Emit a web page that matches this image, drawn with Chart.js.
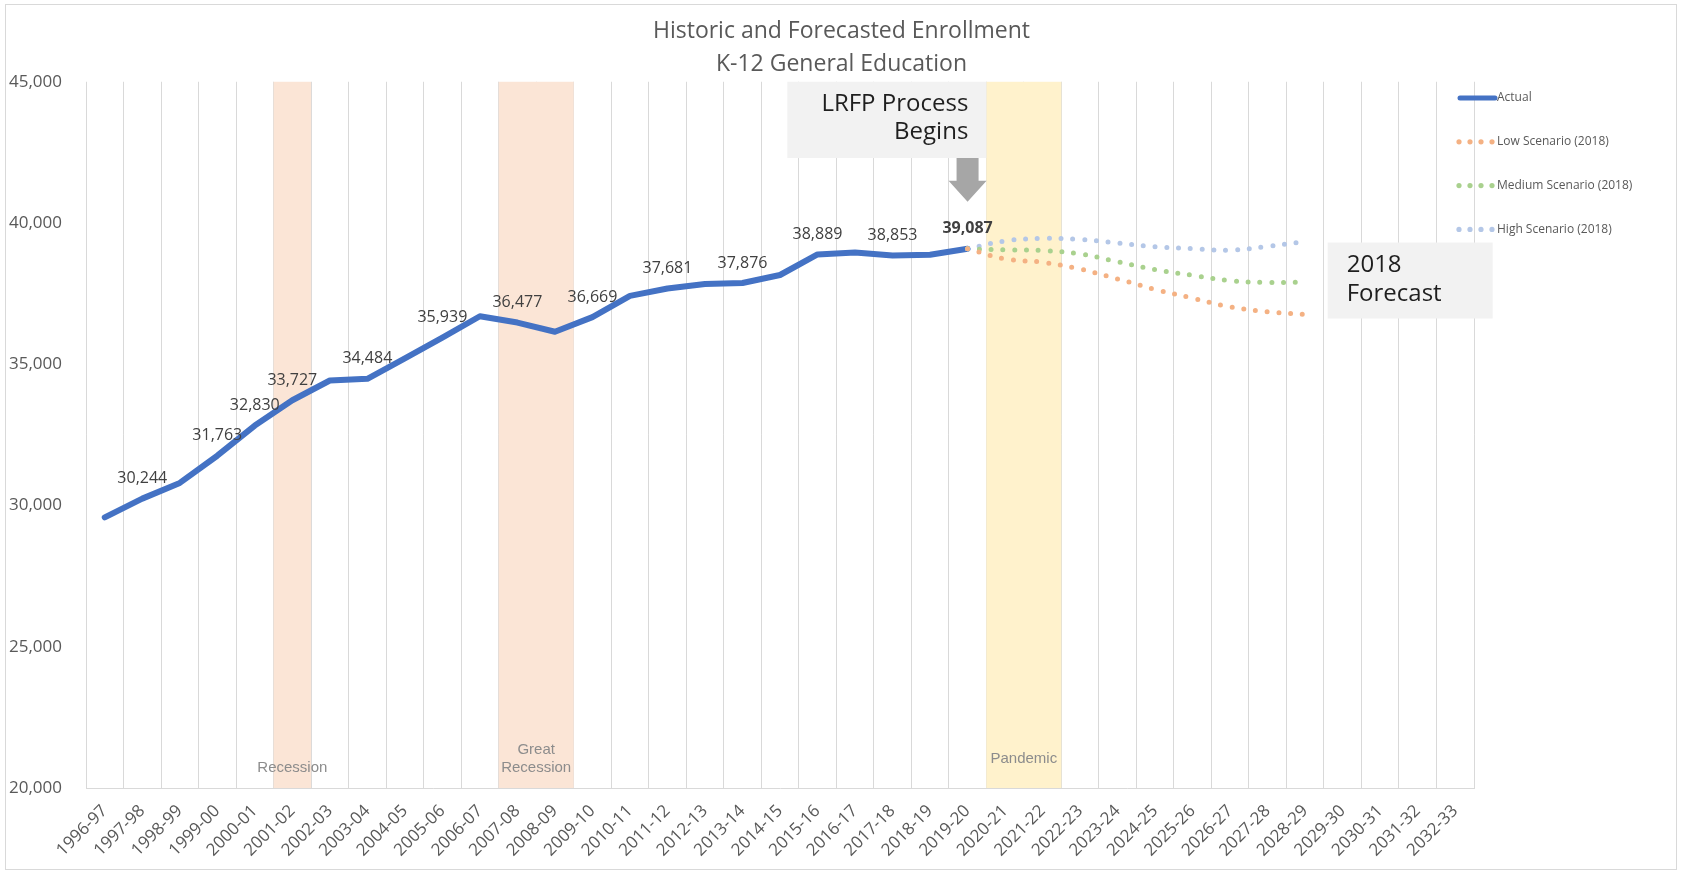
<!DOCTYPE html>
<html>
<head>
<meta charset="utf-8">
<title>Historic and Forecasted Enrollment</title>
<script src="https://cdn.jsdelivr.net/npm/chart.js@4.4.1/dist/chart.umd.min.js"></script>
<style>
    html, body { margin: 0; padding: 0; background: #fff; }
    #wrap { width: 1683px; height: 874px; }
</style>
</head>
<body>
<div id="wrap"><canvas id="enrollmentChart" width="1683" height="874"></canvas></div>
<script>
// School years on the x axis
var years = ['1996-97', '1997-98', '1998-99', '1999-00', '2000-01', '2001-02', '2002-03', '2003-04',
    '2004-05', '2005-06', '2006-07', '2007-08', '2008-09', '2009-10', '2010-11', '2011-12', '2012-13',
    '2013-14', '2014-15', '2015-16', '2016-17', '2017-18', '2018-19', '2019-20', '2020-21', '2021-22',
    '2022-23', '2023-24', '2024-25', '2025-26', '2026-27', '2027-28', '2028-29', '2029-30', '2030-31',
    '2031-32', '2032-33'];

// Actual enrollment, 1996-97 to 2019-20
var actual = [29580, 30244, 30800, 31763, 32830, 33727, 34425, 34484, 35210, 35939, 36700, 36477,
    36150, 36669, 37420, 37681, 37840, 37876, 38160, 38889, 38960, 38853, 38880, 39087];

// 2018 forecast scenarios, 2019-20 to 2028-29
var forecastFrom = '2019-20';
var lowScenario = [39087, 38730, 38610, 38370, 38020, 37650, 37340, 37030, 36860, 36760];
var mediumScenario = [39087, 39050, 39025, 38905, 38630, 38355, 38150, 37960, 37895, 37915];
var highScenario = [39087, 39365, 39455, 39420, 39290, 39160, 39090, 39040, 39170, 39350];

// Years that carry a value label
var labeledYears = ['1997-98', '1999-00', '2000-01', '2001-02', '2003-04', '2005-06', '2007-08',
    '2009-10', '2011-12', '2013-14', '2015-16', '2017-18', '2019-20'];

// Shaded periods
var bandNames = [['Recession'], ['Great', 'Recession'], ['Pandemic']];
var bandStart = ['2001-02', '2007-08', '2020-21'];
var bandEnd = ['2001-02', '2008-09', '2021-22'];

// Y axis
var yMin = 20000;
var yMax = 45000;
var yStep = 5000;

function fmt(v) {
    return v.toLocaleString('en-US');
}

// spread a forecast list over the full year axis
function onYears(values) {
    var start = years.indexOf(forecastFrom);
    return years.map(function (y, i) {
        var k = i - start;
        return k >= 0 && k < values.length ? values[k] : null;
    });
}

var FONT = '"Open Sans", sans-serif';

// white card with thin border
var framePlugin = {
    id: 'frame',
    beforeDraw: function (chart) {
        var ctx = chart.ctx;
        ctx.save();
        ctx.fillStyle = '#fff';
        ctx.fillRect(0, 0, chart.width, chart.height);
        ctx.strokeStyle = '#d9d9d9';
        ctx.lineWidth = 1;
        ctx.strokeRect(5.5, 4.5, chart.width - 12, chart.height - 9);
        ctx.restore();
    }
};

// shaded recession / pandemic periods
var bandPlugin = {
    id: 'bands',
    beforeDatasetsDraw: function (chart) {
        var ctx = chart.ctx;
        var x = chart.scales.x;
        var area = chart.chartArea;
        var half = (x.getPixelForValue(1) - x.getPixelForValue(0)) / 2;
        var fills = ['#fbe5d6', '#fbe5d6', '#fff2cc'];
        var lift = [20, 20, 29];
        ctx.save();
        bandNames.forEach(function (lines, b) {
            var x0 = x.getPixelForValue(years.indexOf(bandStart[b])) - half;
            var x1 = x.getPixelForValue(years.indexOf(bandEnd[b])) + half;
            ctx.fillStyle = fills[b];
            ctx.fillRect(x0, area.top, x1 - x0, area.bottom - area.top);
            ctx.fillStyle = '#8c8c8c';
            ctx.font = '15px "Liberation Sans", Arial, sans-serif';
            ctx.textAlign = 'center';
            ctx.textBaseline = 'middle';
            var cy = area.bottom - lift[b];
            for (var n = lines.length - 1; n >= 0; n--) {
                ctx.fillText(lines[n], (x0 + x1) / 2, cy);
                cy -= 18.5;
            }
        });
        ctx.restore();
    }
};

// value labels, call-out boxes and the arrow
var notePlugin = {
    id: 'notes',
    afterDatasetsDraw: function (chart) {
        var ctx = chart.ctx;
        var x = chart.scales.x;
        var y = chart.scales.y;
        var area = chart.chartArea;
        var meta = chart.getDatasetMeta(0);
        ctx.save();

        ctx.textAlign = 'center';
        ctx.textBaseline = 'middle';
        ctx.fillStyle = '#404040';
        labeledYears.forEach(function (yr, n) {
            var i = years.indexOf(yr);
            var pt = meta.data[i];
            var last = n === labeledYears.length - 1;
            ctx.font = (last ? 'bold ' : '') + '16px ' + FONT;
            ctx.fillText(fmt(actual[i]), pt.x, pt.y - 20);
        });

        // "LRFP Process Begins" box, ending at the 2019-20 boundary
        var cx = x.getPixelForValue(years.indexOf(forecastFrom));
        var half = (x.getPixelForValue(1) - x.getPixelForValue(0)) / 2;
        var right = cx + half;
        var boxBottom = y.getPixelForValue(42300);
        ctx.fillStyle = '#f2f2f2';
        ctx.fillRect(right - 199, area.top, 199, boxBottom - area.top);
        ctx.fillStyle = '#1f1f1f';
        ctx.font = '24px ' + FONT;
        ctx.textAlign = 'right';
        ctx.fillText('LRFP Process', right - 18, area.top + 22);
        ctx.fillText('Begins', right - 18, area.top + 50);

        // arrow down to 2019-20
        var headTop = y.getPixelForValue(41500);
        var tip = y.getPixelForValue(40750);
        ctx.fillStyle = '#a6a6a6';
        ctx.beginPath();
        ctx.moveTo(cx - 11, boxBottom);
        ctx.lineTo(cx + 11, boxBottom);
        ctx.lineTo(cx + 11, headTop);
        ctx.lineTo(cx + 19, headTop);
        ctx.lineTo(cx, tip);
        ctx.lineTo(cx - 19, headTop);
        ctx.lineTo(cx - 11, headTop);
        ctx.closePath();
        ctx.fill();

        // "2018 Forecast" box
        var fx = x.getPixelForValue(years.indexOf('2029-30')) - 15;
        var fTop = y.getPixelForValue(39310);
        var fBottom = y.getPixelForValue(36620);
        ctx.fillStyle = '#f2f2f2';
        ctx.fillRect(fx, fTop, 165, fBottom - fTop);
        ctx.fillStyle = '#1f1f1f';
        ctx.textAlign = 'left';
        ctx.fillText('2018', fx + 19, fTop + 23);
        ctx.fillText('Forecast', fx + 19, fTop + 52);
        ctx.restore();
    }
};

// legend on the right, over the plot edge
var legendPlugin = {
    id: 'sideLegend',
    afterDraw: function (chart) {
        var ctx = chart.ctx;
        ctx.save();
        ctx.font = '12px ' + FONT;
        ctx.textAlign = 'left';
        ctx.textBaseline = 'middle';
        chart.data.datasets.forEach(function (ds, n) {
            var ly = 98 + n * 43.8;
            var lx = 1458;
            if (n === 0) {
                ctx.strokeStyle = ds.borderColor;
                ctx.lineWidth = 5;
                ctx.lineCap = 'round';
                ctx.beginPath();
                ctx.moveTo(lx + 2, ly);
                ctx.lineTo(lx + 37, ly);
                ctx.stroke();
            } else {
                ctx.fillStyle = ds.borderColor;
                for (var d = 0; d < 4; d++) {
                    ctx.beginPath();
                    ctx.arc(lx + 1 + d * 11, ly, 2.6, 0, Math.PI * 2);
                    ctx.fill();
                }
            }
            ctx.fillStyle = '#595959';
            ctx.fillText(ds.label, lx + 39, ly);
        });
        ctx.restore();
    }
};

function forecastLine(label, values, color) {
    return {
        label: label,
        data: onYears(values),
        borderColor: color,
        backgroundColor: color,
        borderWidth: 5,
        borderDash: [0, 11.8],
        borderCapStyle: 'round',
        tension: 0.4,
        pointRadius: 0,
        spanGaps: false,
        order: 0
    };
}

document.addEventListener('DOMContentLoaded', function () {
    var ctx = document.getElementById('enrollmentChart').getContext('2d');
    new Chart(ctx, {
        type: 'line',
        data: {
            labels: years,
            datasets: [
                {
                    label: 'Actual',
                    data: actual,
                    borderColor: '#4472c4',
                    backgroundColor: '#4472c4',
                    borderWidth: 6,
                    borderJoinStyle: 'round',
                    borderCapStyle: 'round',
                    tension: 0,
                    pointRadius: 0,
                    order: 1
                },
                forecastLine('Low Scenario (2018)', lowScenario, '#f4b183'),
                forecastLine('Medium Scenario (2018)', mediumScenario, '#a9d18e'),
                forecastLine('High Scenario (2018)', highScenario, '#b4c7e7')
            ]
        },
        options: {
            responsive: false,
            animation: false,
            layout: { padding: 0 },
            plugins: {
                legend: { display: false },
                tooltip: { enabled: false },
                title: {
                    display: true,
                    text: ['Historic and Forecasted Enrollment', 'K-12 General Education'],
                    color: '#595959',
                    font: { family: FONT, size: 23, weight: 'normal', lineHeight: 1.43 },
                    padding: { top: 15, bottom: 1 }
                }
            },
            scales: {
                x: {
                    offset: true,
                    grid: { color: '#d9d9d9', offset: true, drawTicks: false },
                    border: { color: '#d9d9d9' },
                    ticks: {
                        color: '#595959',
                        font: { family: FONT, size: 17 },
                        minRotation: 45,
                        maxRotation: 45,
                        autoSkip: false,
                        padding: 13
                    },
                    afterFit: function (scale) { scale.height = 86; }
                },
                y: {
                    min: yMin,
                    max: yMax,
                    grid: { display: false },
                    border: { display: false },
                    ticks: {
                        stepSize: yStep,
                        color: '#595959',
                        font: { family: FONT, size: 17 },
                        padding: 16,
                        callback: function (v) { return fmt(v); }
                    },
                    afterFit: function (scale) { scale.width = 86; }
                },
                // empty right-hand axis that keeps room for the legend
                legendSpace: {
                    type: 'linear',
                    position: 'right',
                    grid: { display: false },
                    border: { display: false },
                    ticks: { display: false },
                    afterFit: function (scale) { scale.width = 209; }
                }
            }
        },
        plugins: [framePlugin, bandPlugin, notePlugin, legendPlugin]
    });
});
</script>
</body>
</html>
